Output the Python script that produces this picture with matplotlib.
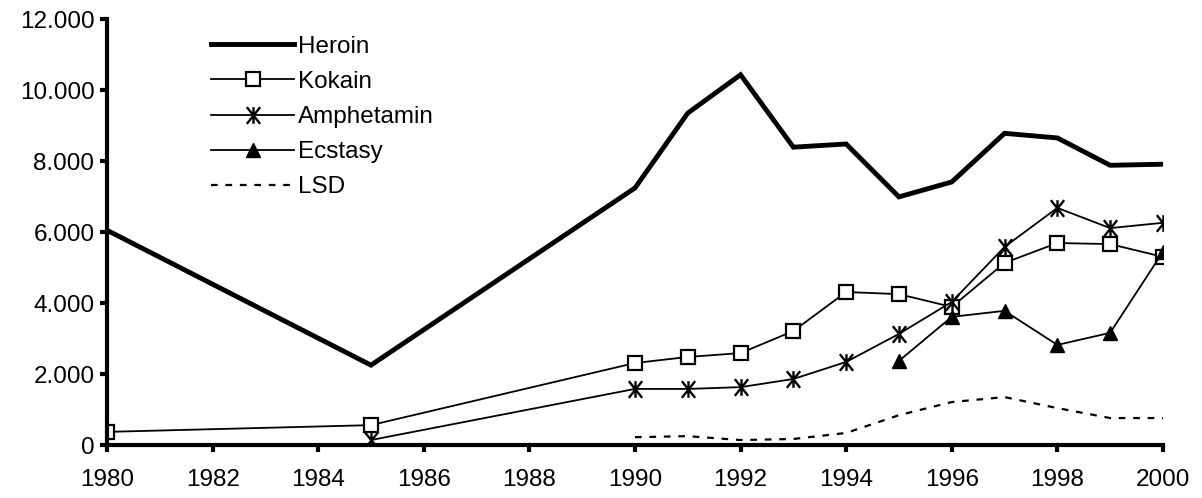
import matplotlib.pyplot as plt
from matplotlib.path import Path
from matplotlib.ticker import FuncFormatter, MultipleLocator

plt.rcParams["font.family"] = ["Liberation Sans", "DejaVu Sans"]

# Values
years = [1980, 1985, 1990, 1991, 1992, 1993, 1994, 1995, 1996, 1997, 1998, 1999, 2000]
heroin = [6050, 2250, 7240, 9350, 10430, 8390, 8480, 6990, 7410, 8780, 8650, 7880, 7910]
kokain = [370, 560, 2310, 2480, 2590, 3210, 4310, 4250, 3890, 5130, 5690, 5660, 5300]
amph = [None, 140, 1580, 1580, 1630, 1860, 2340, 3130, 4030, 5580, 6680, 6110, 6260]

ecstasy_years = [1995, 1996, 1997, 1998, 1999, 2000]
ecstasy = [2370, 3610, 3780, 2820, 3160, 5440]

lsd_years = [1990, 1991, 1992, 1993, 1994, 1995, 1996, 1997, 1998, 1999, 2000]
lsd = [220, 250, 140, 170, 340, 840, 1210, 1350, 1040, 760, 760]

# Excel-style star marker: an x with a vertical bar through it
star = Path(
    [(-0.8, -1), (0.8, 1), (-0.8, 1), (0.8, -1), (0, -1), (0, 1)],
    [Path.MOVETO, Path.LINETO, Path.MOVETO, Path.LINETO, Path.MOVETO, Path.LINETO],
)

fig = plt.figure(figsize=(12.02, 4.98), dpi=100)
ax = fig.add_axes([0.089, 0.1064, 0.8785, 0.8554])

ax.plot(years, heroin, color="black", lw=3.5, solid_joinstyle="miter", label="Heroin")
ax.plot(years, kokain, color="black", lw=1.3, marker="s", ms=9.5, mfc="white",
        mec="black", mew=1.6, label="Kokain")
amph_x = [y for y, v in zip(years, amph) if v is not None]
amph_v = [v for v in amph if v is not None]
ax.plot(amph_x, amph_v, color="black", lw=1.3, marker=star, ms=12, mew=1.7,
        label="Amphetamin")
ax.plot(ecstasy_years, ecstasy, color="black", lw=1.3, marker="^", ms=10, label="Ecstasy")
ax.plot(lsd_years, lsd, color="black", lw=1.6, ls=(0, (3, 3.5)), label="LSD")

ax.set_xlim(1980, 2000)
ax.set_ylim(0, 12000)
ax.xaxis.set_major_locator(MultipleLocator(2))
ax.yaxis.set_major_locator(MultipleLocator(2000))
ax.yaxis.set_major_formatter(FuncFormatter(lambda v, p: f"{int(v):,}".replace(",", ".")))

for s in ["top", "right"]:
    ax.spines[s].set_visible(False)
for s in ["left", "bottom"]:
    ax.spines[s].set_linewidth(3)
ax.tick_params(width=3, length=5, labelsize=17.5, direction="out")
ax.tick_params(axis="x", pad=12)
ax.tick_params(axis="y", pad=4)

leg = ax.legend(loc="upper left", bbox_to_anchor=(0.078, 1.012), frameon=False,
                fontsize=17.5, handlelength=3.4, handletextpad=0.15, labelspacing=0.54)

fig.savefig("out.png", dpi=100)
